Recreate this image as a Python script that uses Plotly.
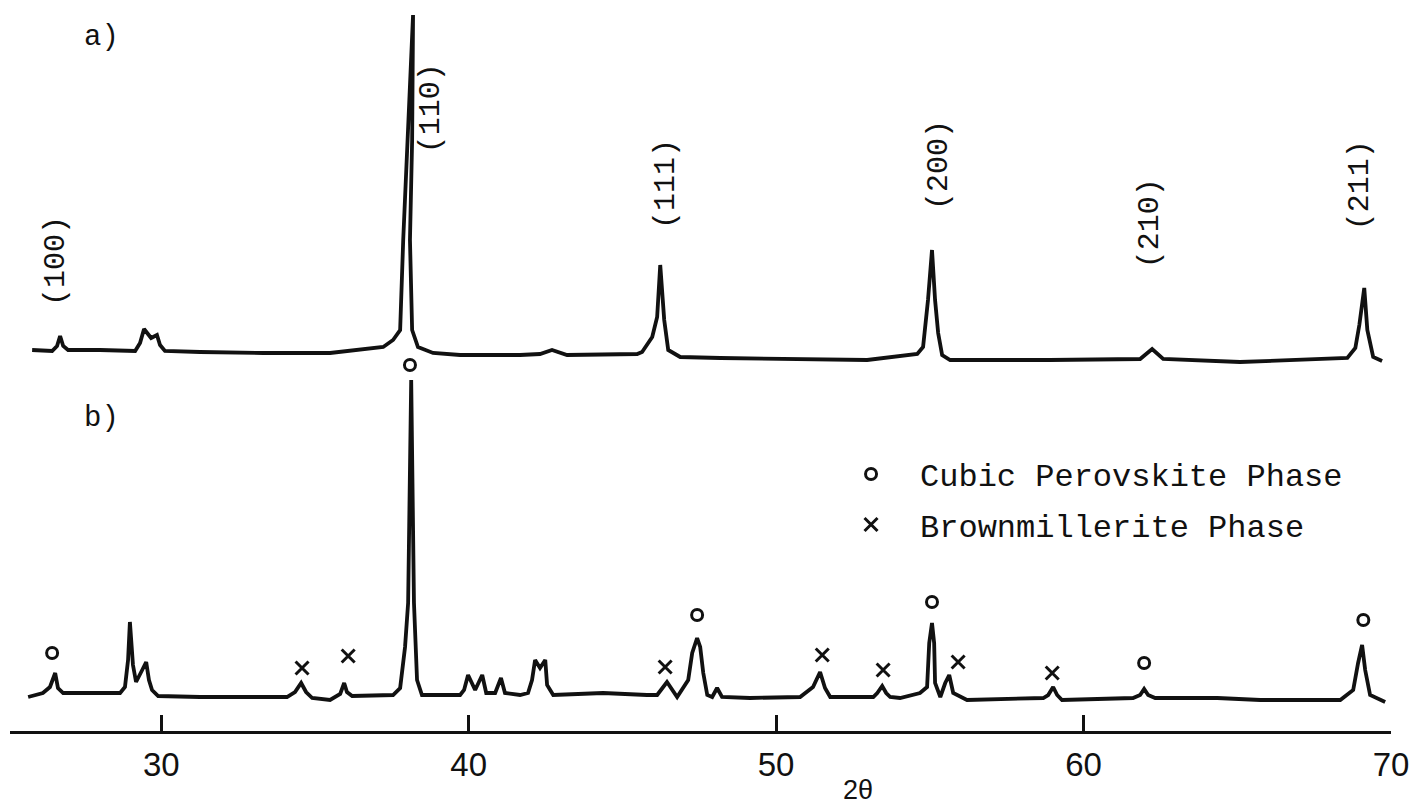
import plotly.graph_objects as go

# ---------------- data ----------------
# pattern a) : 2-theta and intensity (arbitrary units above its own baseline region)
theta_a = [25.80, 26.45, 26.61, 26.71, 26.81, 26.97, 28.01, 29.15, 29.31, 29.44, 29.67, 29.86,
           29.96, 30.12, 31.26, 33.31, 35.49, 36.47, 37.22, 37.54, 37.77, 37.87, 38.00, 38.19,
           38.16, 38.09, 38.16, 38.35, 38.84, 39.72, 41.67, 42.32, 42.71, 43.20, 45.48, 45.64,
           45.97, 46.13, 46.23, 46.36, 46.49, 46.88, 48.18, 52.96, 54.59, 54.78, 54.94, 55.07,
           55.17, 55.27, 55.40, 55.66, 58.91, 61.84, 62.23, 62.59, 65.09, 67.27, 68.58, 68.84,
           68.97, 69.13, 69.23, 69.42, 69.71]
int_a = [41, 40, 45, 55, 45, 41, 41, 40, 48, 62, 53, 56,
         46, 40, 39, 38, 38, 41, 44, 51, 61, 151, 251, 376,
         251, 151, 61, 44, 38, 36, 36, 37, 41, 36, 37, 39,
         54, 74, 126, 71, 41, 34, 33, 31, 37, 44, 91, 141,
         91, 58, 36, 31, 31, 32, 42, 32, 29, 32, 33, 43,
         66, 103, 61, 34, 30]

# pattern b)
theta_b = [25.67, 26.15, 26.38, 26.55, 26.64, 26.81, 28.66, 28.82, 28.92, 28.98, 29.08, 29.18,
           29.38, 29.51, 29.60, 29.70, 29.90, 31.26, 34.09, 34.35, 34.55, 34.71, 34.91, 35.49,
           35.82, 35.95, 36.04, 36.21, 37.54, 37.77, 37.93, 38.03, 38.13, 38.22, 38.32, 38.48,
           39.72, 39.85, 39.98, 40.21, 40.44, 40.57, 40.86, 41.05, 41.18, 41.67, 41.93, 42.06,
           42.16, 42.32, 42.49, 42.55, 42.75, 44.37, 45.80, 46.13, 46.45, 46.78, 47.14, 47.27,
           47.43, 47.53, 47.63, 47.76, 47.92, 48.08, 48.24, 49.15, 50.78, 51.20, 51.43, 51.59,
           51.76, 53.16, 53.29, 53.45, 53.58, 53.71, 54.03, 54.68, 54.91, 54.98, 55.07, 55.14,
           55.17, 55.34, 55.50, 55.63, 55.76, 56.21, 58.69, 58.85, 59.01, 59.14, 59.30, 61.61,
           61.84, 61.97, 62.10, 62.33, 64.35, 65.75, 68.35, 68.77, 68.93, 69.06, 69.16, 69.32,
           69.81]
int_b = [34, 38, 44, 58, 43, 38, 38, 44, 71, 109, 66, 49,
         61, 69, 51, 41, 35, 34, 34, 39, 48, 39, 33, 31,
         37, 48, 39, 35, 36, 43, 84, 128, 351, 128, 51, 36,
         36, 41, 56, 41, 56, 38, 38, 53, 38, 36, 38, 51,
         71, 63, 71, 46, 36, 38, 36, 36, 49, 34, 51, 78,
         93, 84, 58, 36, 34, 43, 34, 33, 34, 44, 59, 43,
         34, 34, 38, 45, 38, 34, 33, 38, 44, 88, 108, 88,
         48, 34, 48, 56, 38, 31, 33, 36, 44, 36, 31, 33,
         36, 42, 36, 33, 33, 31, 31, 41, 68, 86, 61, 36,
         29]

# phase markers in pattern b)
cubic_theta = [26.45, 38.09, 47.43, 55.07, 61.97, 69.10]
cubic_level = [78, 366, 116, 129, 68, 111]
brown_theta = [34.58, 36.08, 46.39, 51.50, 53.48, 55.92, 58.98]
brown_level = [63, 75, 64, 76, 61, 69, 58]

# Miller indices for pattern a)
hkl_labels = ["(100)", "(110)", "(111)", "(200)", "(210)", "(211)"]
hkl_theta = [26.58, 38.78, 46.42, 55.30, 62.17, 69.00]
hkl_level = [470, 623, 547, 566, 508, 546]

x_ticks = [30, 40, 50, 60, 70]

# ---------------- figure ----------------
OFFSET_A = 340
INK = "#111111"
MONO = "Liberation Mono"

fig = go.Figure()
fig.add_trace(go.Scatter(x=theta_a, y=[v + OFFSET_A for v in int_a], mode="lines",
                         line=dict(color=INK, width=3.8), showlegend=False, hoverinfo="skip"))
fig.add_trace(go.Scatter(x=theta_b, y=int_b, mode="lines",
                         line=dict(color=INK, width=3.8), showlegend=False, hoverinfo="skip"))
fig.add_trace(go.Scatter(x=cubic_theta, y=cubic_level, mode="markers", name="Cubic Perovskite Phase",
                         legendgroup="c",
                         marker=dict(symbol="circle-open", size=11, color=INK, line=dict(width=3, color=INK))))
fig.add_trace(go.Scatter(x=brown_theta, y=brown_level, mode="markers", name="Brownmillerite Phase",
                         legendgroup="b",
                         marker=dict(symbol="x-thin-open", size=13, color=INK, line=dict(width=3, color=INK))))

for lab, xt, yl in zip(hkl_labels, hkl_theta, hkl_level):
    fig.add_annotation(x=xt, y=yl, xref="x", yref="y", text=lab, showarrow=False, textangle=-90,
                       font=dict(family=MONO, size=30, color=INK))

fig.add_annotation(x=28.04, y=694, xref="x", yref="y", text="a)", showarrow=False,
                   font=dict(family=MONO, size=29, color=INK))
fig.add_annotation(x=28.04, y=313, xref="x", yref="y", text="b)", showarrow=False,
                   font=dict(family=MONO, size=29, color=INK))
fig.add_annotation(x=52.67, y=-59 / 731, xref="x", yref="paper", text="2θ", showarrow=False,
                   yanchor="middle", borderpad=0,
                   font=dict(family="Liberation Sans", size=27, color=INK))

fig.update_layout(
    width=1420, height=805,
    margin=dict(l=10, r=29, t=0, b=74),
    paper_bgcolor="white", plot_bgcolor="white",
    showlegend=True,
    legend=dict(x=0.5880, y=0.3890, xanchor="left", yanchor="top",
                font=dict(family=MONO, size=32, color=INK),
                itemwidth=88, tracegroupgap=6, bgcolor="rgba(0,0,0,0)"),
    xaxis=dict(range=[25.08, 70.0], tickvals=x_ticks, ticks="inside", ticklen=16, tickwidth=3,
               tickcolor=INK, showline=True, linewidth=3, linecolor=INK, showgrid=False,
               zeroline=False, tickfont=dict(family="Liberation Sans", size=33, color=INK),
               ticklabelstandoff=2),
    yaxis=dict(range=[0, 731], visible=False),
)

fig.write_html("out.html")
